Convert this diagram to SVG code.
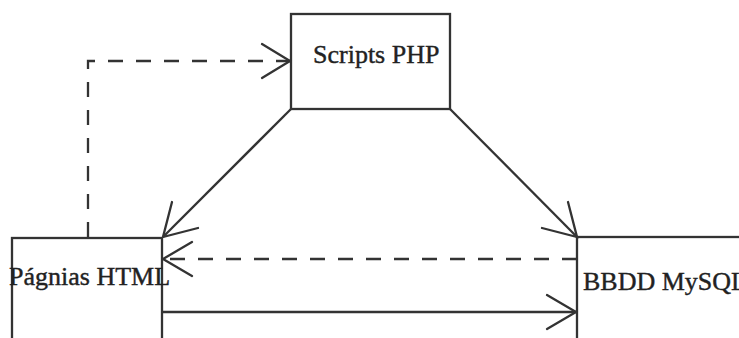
<svg xmlns="http://www.w3.org/2000/svg" width="739" height="338" viewBox="0 0 739 338">
<style>
.box{fill:#fff;stroke:#333;stroke-width:2.3}
.lbl{font-family:"Liberation Serif","Times New Roman",serif;font-size:26px;fill:#222;stroke:#222;stroke-width:0.4}
.ln{fill:none;stroke:#333;stroke-width:2.3}
.dash{stroke-dasharray:15 13}
.ah{fill:none;stroke:#333;stroke-width:2.3;stroke-linecap:round}
</style>
<rect width="739" height="338" fill="#fff"/>
<g id="scripts-php"><rect class="box" x="291" y="14" width="159" height="95"/><text class="lbl" x="313" y="63">Scripts PHP</text></g>
<g id="paginas-html"><rect class="box" x="12" y="238" width="150" height="110"/><text class="lbl" x="9" y="285">Págnias HTML</text></g>
<g id="bbdd-mysql"><rect class="box" x="577" y="237" width="180" height="120"/><text class="lbl" x="583" y="290">BBDD MySQL</text></g>
<g id="connectors">
<polyline class="ln dash" points="88,237 88,61 290,61"/>
<polyline class="ah" points="262,44 290,61 262,78"/>
<line class="ln" x1="291" y1="109" x2="163" y2="237"/>
<polyline class="ah" points="172,202 163,237 198,228"/>
<line class="ln" x1="450" y1="109" x2="577" y2="237"/>
<polyline class="ah" points="568,202 577,237 542,228"/>
<line class="ln dash" x1="577" y1="259" x2="163" y2="259"/>
<polyline class="ah" points="192,242 163,259 192,276"/>
<line class="ln" x1="162" y1="312" x2="576" y2="312"/>
<polyline class="ah" points="547,295 576,312 547,329"/>
</g>
</svg>
